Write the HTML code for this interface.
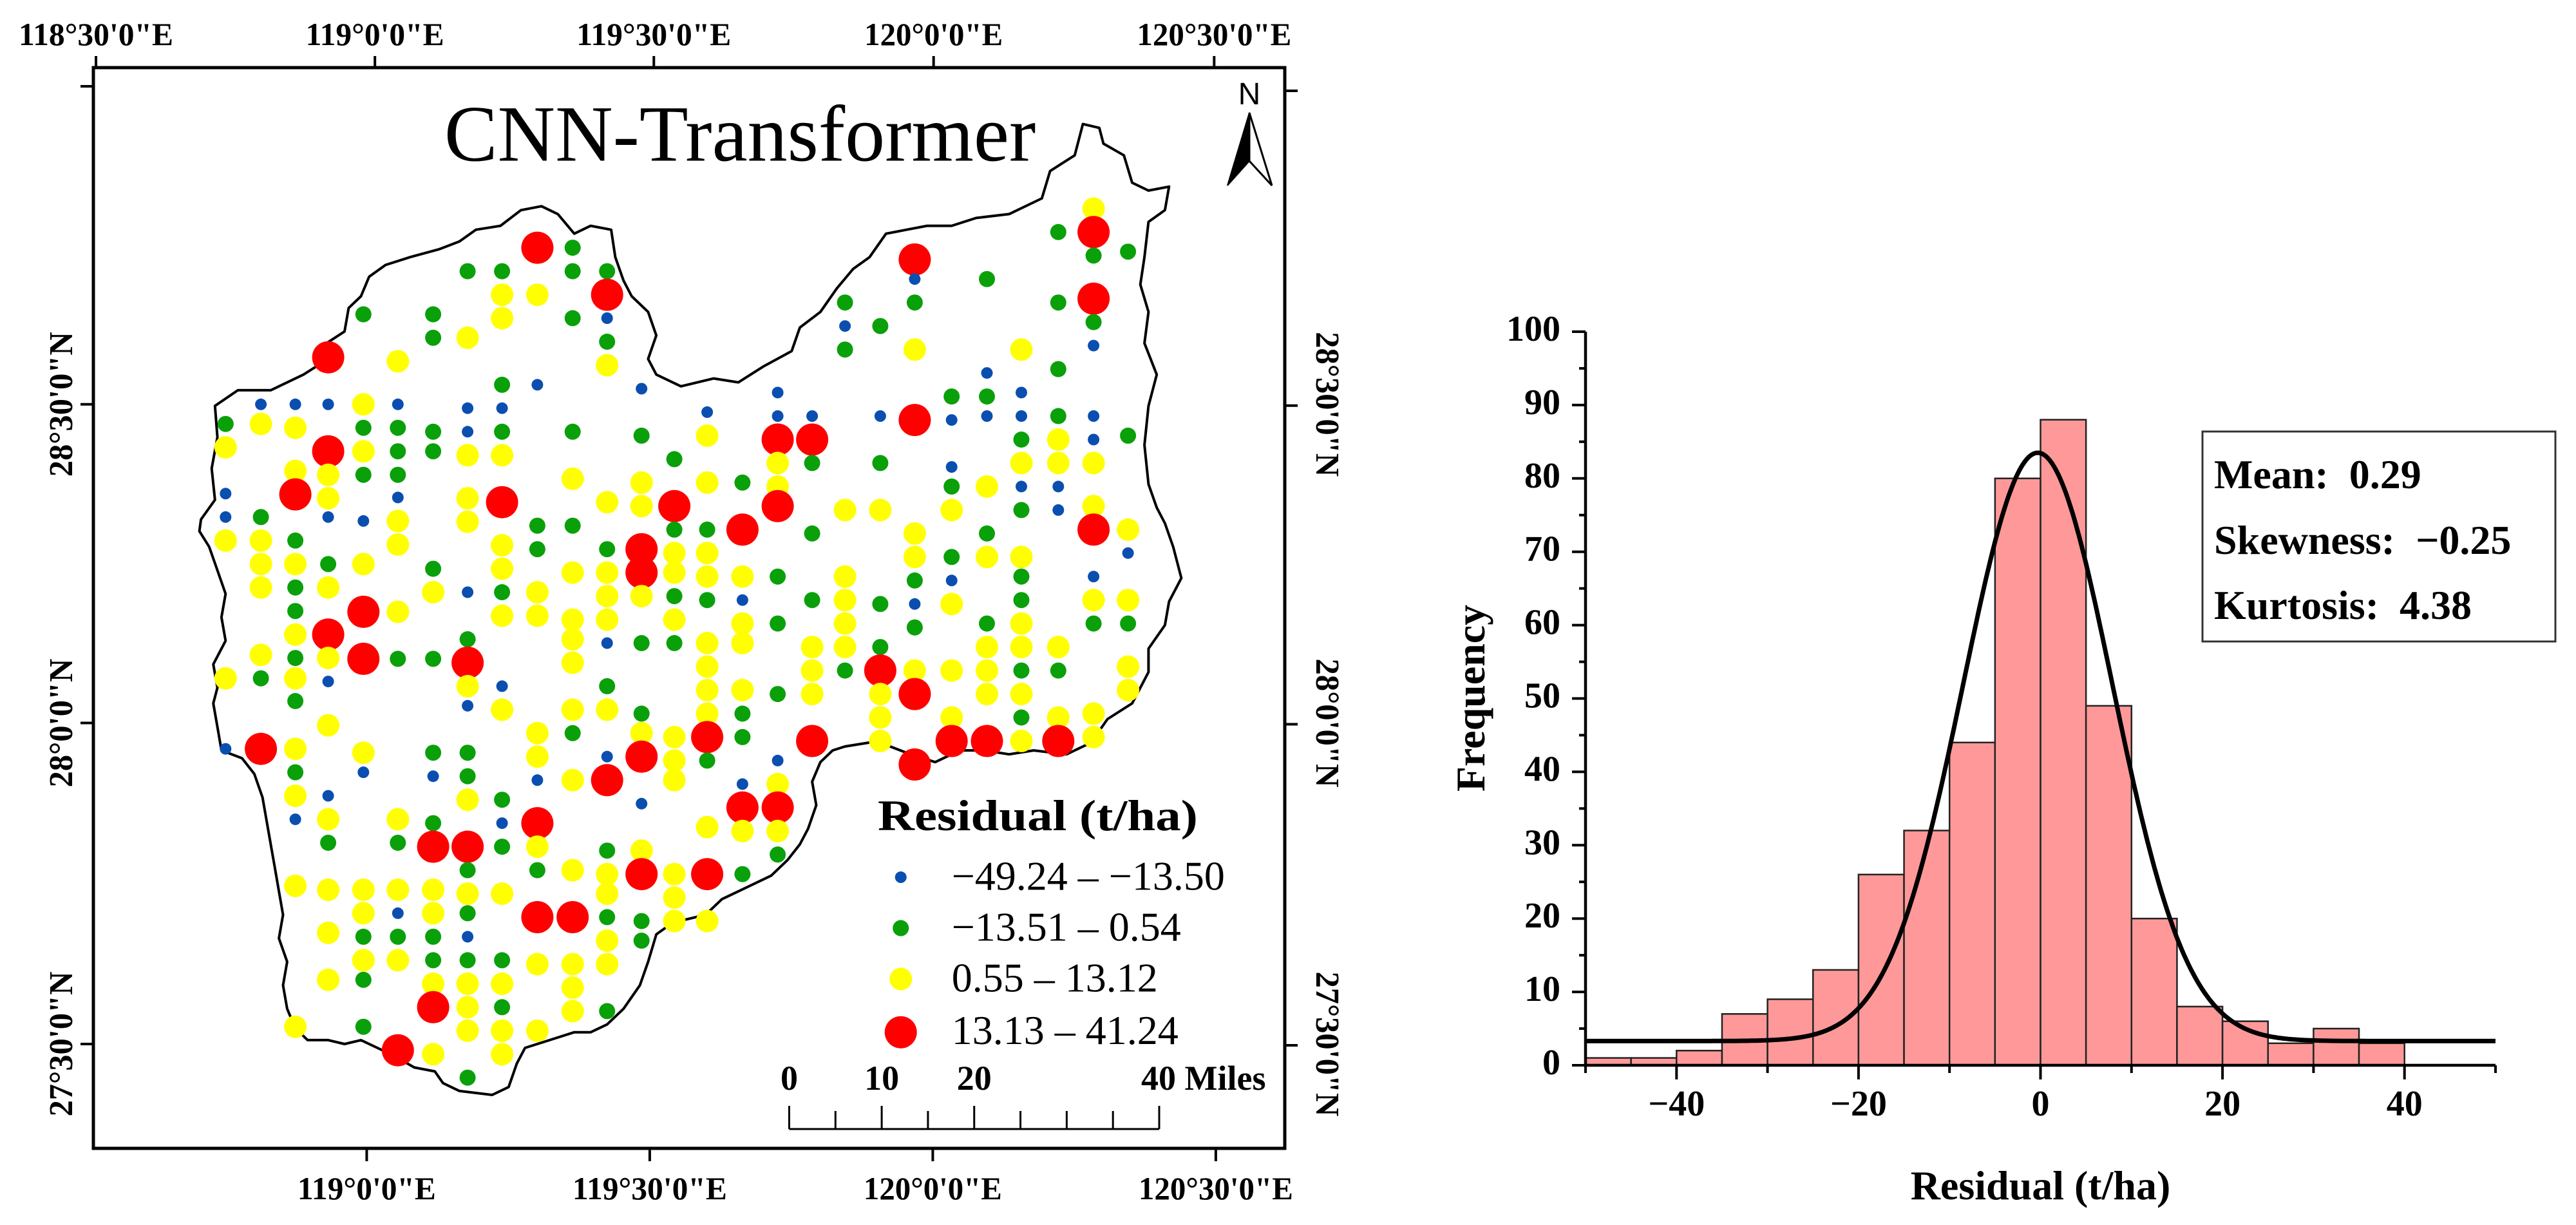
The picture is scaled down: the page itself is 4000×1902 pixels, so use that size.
<!DOCTYPE html>
<html><head><meta charset="utf-8">
<style>
html,body{margin:0;padding:0;background:#fff;}
svg{display:block;}
text{font-family:"Liberation Serif","DejaVu Serif",serif;fill:#000;white-space:pre;}
</style></head>
<body>
<svg id="fig" width="4000" height="1902" viewBox="0 0 4000 1902" xmlns="http://www.w3.org/2000/svg" xml:space="preserve">
  <g id="map"></g>
  <g id="hist"></g>
</svg>
<script>
// ================= MAP DATA =================
const siteColumns = [
"275:g543,y573,b632,b662,y692,y868,b958",
"318:b518,y543,g662,y692,y722,y752,y838,g868,r958",
"360:b518,y548,y603,r633,g692,y722,g752,g782,y812,g842,y868,g897,y958,g988,y1018,b1048,y1133,y1313",
"400:r458,b518,r578,y608,y638,b662,g722,y752,r812,y842,b872,y928,b1018,y1048,g1078,y1138,y1193,y1253",
"443:g403,y518,g548,y578,g608,b667,y722,r783,r843,y963,b988,y1138,y1168,g1198,y1228,g1253,g1313",
"485:y463,b518,g548,g578,g608,b637,y667,y697,y783,g843,y1048,g1078,y1138,b1168,g1198,y1228,r1343",
"528:g403,g433,g553,g578,g728,y758,g843,g963,b993,g1053,r1083,y1138,y1168,g1198,g1228,y1258,r1288,y1348",
"570:g348,y433,b523,b553,y583,y638,y668,b758,g818,r848,y878,b903,g963,g993,y1023,r1083,g1113,y1143,g1168,b1198,g1228,y1258,y1288,y1318,g1378",
"612:g348,y378,y408,g493,b523,g553,y583,r643,y698,y728,g758,y788,b878,y908,g1023,b1053,g1083,y1143,g1228,y1258,g1288,y1318,y1348",
"655:r318,y378,b493,g673,g703,y758,y788,y938,y968,b998,r1053,y1083,g1113,r1173,y1233,y1318",
"698:g318,g348,g408,g553,y613,g673,y733,y793,y818,y848,y908,g938,y998,y1113,r1173,y1233,y1263,y1293",
"740:g348,r378,b408,g438,y468,y643,g703,y733,y763,y793,b823,g878,y908,b968,r998,g1088,y1118,y1143,g1173,y1203,y1233,g1293",
"782:b498,g558,y618,y648,r703,r733,y763,g823,g913,y938,r968,b1028,y1088,r1118,g1178,g1203",
"822:g588,r648,g678,y708,y733,g763,y793,g823,y943,y973,y998,y1118,y1148,y1178",
"862:b528,y558,y618,g678,y708,y738,g768,y823,y853,y883,y913,r943,g973,y1058,r1118,y1178",
"905:g618,r678,y738,b768,y798,y823,y883,g913,g943,b1003,r1033,y1063,g1118",
"948:b503,b533,r563,y593,y623,r648,g738,g798,g888,b973,y1003,r1033,y1063,g1093",
"990:b533,r563,g593,g683,g768,y828,y858,y888,r948",
"1030:g388,b418,g448,y653,y738,y768,y798,y828,g858",
"1073:g418,b533,g593,y653,g773,g828,r858,y888,y918,y948",
"1115:r333,b358,g388,y448,r538,y683,y713,g743,b773,g803,y858,r888,r978",
"1160:g508,b538,b598,g623,y653,g713,b743,y773,y858,y918,r948",
"1203:g358,b478,g508,b533,y623,g683,y713,g798,y828,y858,y888,r948",
"1245:y448,b503,b533,g563,y593,b623,g653,y713,g738,g768,y798,y828,g858,y888,g918,y948",
"1290:g298,g388,g473,g533,y563,y593,b623,b653,y828,g858,y918,r948",
"1333:y268,r298,g328,r383,g413,b443,b533,b563,y593,y648,r678,b738,y768,g798,y913,y943",
"1375:g323,g558,y678,b708,y768,g798,y853,y883"
];
const classLabels = ["\u221249.24 \u2013 \u221213.50","\u221213.51 \u2013 0.54","0.55 \u2013 13.12","13.13 \u2013 41.24"];
const classKeys = ["b","g","y","r"];
const topLonLabels = ["118\u00b030'0\"E","119\u00b00'0\"E","119\u00b030'0\"E","120\u00b00'0\"E","120\u00b030'0\"E"];
const topLonPos = [117,457,797,1138,1480];
const botLonLabels = ["119\u00b00'0\"E","119\u00b030'0\"E","120\u00b00'0\"E","120\u00b030'0\"E"];
const botLonPos = [447,792,1137,1482];
const latLabels = ["28\u00b030'0\"N","28\u00b00'0\"N","27\u00b030'0\"N"];
const latPos = [518,925,1335];
const scaleBarLabels = ["0","10","20","40 Miles"];
const scaleBarMiles = [0,10,20,40];
const boundary = [[245,665],[262,640],[258,600],[265,560],[262,520],[290,500],[330,500],[370,480],[385,470],[398,440],[420,425],[425,395],[440,380],[450,355],[470,340],[500,330],[535,320],[560,310],[580,295],[610,290],[635,270],[660,265],[680,275],[700,300],[720,290],[745,295],[750,330],[760,360],[770,380],[790,400],[800,430],[790,460],[800,480],[830,495],[870,485],[900,490],[930,470],[965,450],[975,420],[1000,400],[1020,370],[1040,345],[1060,330],[1080,300],[1105,295],[1130,290],[1160,290],[1190,280],[1230,275],[1270,255],[1280,220],[1310,200],[1320,160],[1340,165],[1345,185],[1370,200],[1380,235],[1400,245],[1425,240],[1420,270],[1400,285],[1395,330],[1390,365],[1400,400],[1395,440],[1410,480],[1400,520],[1395,570],[1400,620],[1410,650],[1420,670],[1430,700],[1440,740],[1425,770],[1420,800],[1400,830],[1400,860],[1390,880],[1380,900],[1350,920],[1330,950],[1300,965],[1260,960],[1230,965],[1200,960],[1170,960],[1140,975],[1110,965],[1085,955],[1060,950],[1030,955],[1015,960],[1000,975],[990,1000],[995,1030],[985,1060],[975,1080],[960,1100],[940,1120],[900,1140],[880,1150],[860,1170],[820,1180],[800,1195],[790,1230],[780,1260],[760,1290],[740,1310],[720,1320],[700,1320],[670,1330],[640,1340],[630,1360],[620,1390],[600,1400],[560,1395],[540,1385],[530,1370],[505,1365],[480,1350],[460,1340],[440,1330],[420,1335],[400,1330],[375,1330],[360,1315],[350,1290],[345,1260],[350,1230],[340,1200],[345,1170],[340,1140],[335,1110],[330,1080],[325,1050],[320,1020],[310,990],[295,970],[270,960],[265,930],[260,900],[265,880],[260,850],[275,820],[270,790],[275,760],[265,730],[255,700],[243,680]];

// ================= HISTOGRAM DATA =================
const binStarts = [-50,-45,-40,-35,-30,-25,-20,-15,-10,-5,0,5,10,15,20,25,30,35];
const binCounts = [1,1,2,7,9,13,26,32,44,80,88,49,20,8,6,3,5,3];
const binWidth = [5];
const fitCenter = [-0.3];
const fitSigma = [8.2];
const fitPeak = [80.2];
const fitBase = [3.3];
const xTicks = [-40,-20,0,20,40];
const xTickLabels = ["\u221240","\u221220","0","20","40"];
const yTicks = [0,10,20,30,40,50,60,70,80,90,100];
const yTickLabels = ["0","10","20","30","40","50","60","70","80","90","100"];
const statsLines = ["Mean:  0.29","Skewness:  \u22120.25","Kurtosis:  4.38"];

const NS="http://www.w3.org/2000/svg";
function mk(tag, attrs, parent){const e=document.createElementNS(NS,tag);for(const k in attrs)e.setAttribute(k,attrs[k]);parent.appendChild(e);return e;}

// ---------- map ----------
const map=document.getElementById('map');
const mx=v=>v/0.785, my=v=>(v-1.6)/0.8226;
const FL=145,FR=1995,FT=105,FB=1783;

let frame=mk('rect',{x:FL,y:FT,width:FR-FL,height:FB-FT,fill:'none',stroke:'#000','stroke-width':5},map);



let bd=mk('polygon',{points:boundary.map(p=>mx(p[0]).toFixed(1)+','+my(p[1]).toFixed(1)).join(' '),fill:'#fff',stroke:'#000','stroke-width':4,'stroke-linejoin':'round'},map);



const colors={b:'#0a4fb0',g:'#0aa00a',y:'#ffff00',r:'#ff0000'};
const radii={b:9,g:12.5,y:17.5,r:25};
const dotsG=mk('g',{},map);


siteColumns.forEach(col=>{
  const [cx,rest]=col.split(':');
  rest.split(',').forEach(s=>{
    const k=s[0], yv=+s.slice(1);
    const c=mk('circle',{cx:mx(+cx).toFixed(1),cy:my(yv).toFixed(1),r:radii[k],fill:colors[k]},dotsG);
    
    
  });
});

let t=mk('text',{x:mx(902),y:my(207),'text-anchor':'middle','font-size':124},map);t.textContent='CNN-Transformer';



let na=mk('g',{},map);


mk('polygon',{points:'1940,175 1906,288 1940,250',fill:'#000',stroke:'#000','stroke-width':2},na);
mk('polygon',{points:'1940,175 1975,288 1940,250',fill:'#fff',stroke:'#000','stroke-width':3},na);
let nt=mk('text',{x:1940,y:162,'text-anchor':'middle','font-size':48,style:'font-family:"Liberation Sans",sans-serif'},na);nt.textContent='N';

topLonLabels.forEach((lab,i)=>{
  const x=mx(topLonPos[i]);
  mk('line',{x1:x,x2:x,y1:FT,y2:FT-18,stroke:'#000','stroke-width':4},map);
  let tx=mk('text',{x:x,y:70,'text-anchor':'middle','font-size':50,'font-weight':'bold',textLength:lab.length>9?240:215,lengthAdjust:'spacingAndGlyphs'},map);tx.textContent=lab;
  
  
});
botLonLabels.forEach((lab,i)=>{
  const x=mx(botLonPos[i]);
  mk('line',{x1:x,x2:x,y1:FB,y2:FB+20,stroke:'#000','stroke-width':4},map);
  let tx=mk('text',{x:x,y:1862,'text-anchor':'middle','font-size':50,'font-weight':'bold',textLength:lab.length>9?240:215,lengthAdjust:'spacingAndGlyphs'},map);tx.textContent=lab;
  
  
});
[134].concat(latPos.map(my)).forEach(y=>{
  mk('line',{x1:FL,x2:FL-20,y1:y,y2:y,stroke:'#000','stroke-width':4},map);
});
[141].concat(latPos.map(v=>my(v)+2)).forEach(y=>{
  mk('line',{x1:FR,x2:FR+20,y1:y,y2:y,stroke:'#000','stroke-width':4},map);
});
latLabels.forEach((lab,i)=>{
  const y=my(latPos[i]);
  const tl=lab.length>8?225:200;
  let l=mk('text',{x:0,y:0,'text-anchor':'middle','font-size':52,'font-weight':'bold',textLength:tl,lengthAdjust:'spacingAndGlyphs',transform:`translate(112,${y}) rotate(-90)`},map);l.textContent=lab;
  
  
  let r=mk('text',{x:0,y:0,'text-anchor':'middle','font-size':52,'font-weight':'bold',textLength:tl,lengthAdjust:'spacingAndGlyphs',transform:`translate(2044,${y}) rotate(90)`},map);r.textContent=lab;
  
  
});

let lg=mk('g',{},map);


let lt=mk('text',{x:mx(1070),y:my(1062),'font-size':68,'font-weight':'bold',textLength:mx(1460)-mx(1070),lengthAdjust:'spacingAndGlyphs'},lg);lt.textContent='Residual (t/ha)';
const legY=[1122,1187,1252,1320], legTY=[1138,1203,1268,1335];
classKeys.forEach((k,i)=>{
  mk('circle',{cx:mx(1098),cy:my(legY[i]),r:radii[k],fill:colors[k]},lg);
  let tx=mk('text',{x:mx(1160),y:my(legTY[i]),'font-size':64},lg);tx.textContent=classLabels[i];
  
  
});

let sb=mk('g',{},map);


const sb0=mx(962), sbPerMile=(mx(1413)-mx(962))/40, sbY=1753;
mk('line',{x1:sb0,x2:sb0+40*sbPerMile,y1:sbY,y2:sbY,stroke:'#000','stroke-width':3},sb);
for(let m=0;m<=40;m+=5){
  const major=scaleBarMiles.includes(m);
  mk('line',{x1:sb0+m*sbPerMile,x2:sb0+m*sbPerMile,y1:sbY,y2:sbY-(major?36:28),stroke:'#000','stroke-width':3},sb);
}
scaleBarMiles.forEach((m,i)=>{
  const x=sb0+m*sbPerMile;
  let tx=mk('text',{x:i===3?x-28:x,y:1692,'text-anchor':i===3?'start':'middle','font-size':54,'font-weight':'bold'},sb);tx.textContent=scaleBarLabels[i];
});

// ---------- histogram ----------
const hist=document.getElementById('hist');
const X0=2462,X1=3875,Y0=1654,Y1=515;
const hx=v=>X0+(v+50)/100*(X1-X0);
const hy=v=>Y0-v/100*(Y0-Y1);

binStarts.forEach((s,i)=>{
  const r=mk('rect',{x:hx(s),y:hy(binCounts[i]),width:hx(s+binWidth[0])-hx(s),height:Y0-hy(binCounts[i]),fill:'#ff9999',stroke:'#222','stroke-width':2.5},hist);
  
  
});

let pts=[];
for(let v=-50;v<=50;v+=0.25){
  const f=fitBase[0]+fitPeak[0]*Math.exp(-Math.pow(v-fitCenter[0],2)/(2*fitSigma[0]*fitSigma[0]));
  pts.push(hx(v).toFixed(1)+','+hy(f).toFixed(1));
}
let cv=mk('polyline',{points:pts.join(' '),fill:'none',stroke:'#000','stroke-width':7,'stroke-linejoin':'round'},hist);



let ax=mk('path',{d:`M${X0},${Y1} L${X0},${Y0} L${X1},${Y0}`,fill:'none',stroke:'#000','stroke-width':4.5},hist);


for(let v=0;v<=100;v+=5){
  const maj=v%10===0;
  mk('line',{x1:X0,x2:X0-(maj?21:10),y1:hy(v),y2:hy(v),stroke:'#000','stroke-width':4},hist);
}
yTicks.forEach((v,i)=>{
  let tx=mk('text',{x:2423,y:hy(v)+14,'text-anchor':'end','font-size':56,'font-weight':'bold'},hist);tx.textContent=yTickLabels[i];
  
  
});
for(let v=-50;v<=50;v+=10){
  const maj=v%20===0;
  mk('line',{x1:hx(v),x2:hx(v),y1:Y0,y2:Y0+(maj?22:12),stroke:'#000','stroke-width':4},hist);
}
mk('line',{x1:X1,x2:X1,y1:Y0,y2:Y0+12,stroke:'#000','stroke-width':4},hist);
xTicks.forEach((v,i)=>{
  let tx=mk('text',{x:hx(v),y:1732,'text-anchor':'middle','font-size':56,'font-weight':'bold'},hist);tx.textContent=xTickLabels[i];
  
  
});
let yt=mk('text',{x:0,y:0,'text-anchor':'middle','font-size':64,'font-weight':'bold',transform:'translate(2305,1084) rotate(-90)'},hist);yt.textContent='Frequency';


let xt=mk('text',{x:hx(0),y:1862,'text-anchor':'middle','font-size':64,'font-weight':'bold'},hist);xt.textContent='Residual (t/ha)';



let sbx=mk('g',{},hist);


mk('rect',{x:3420,y:670,width:548,height:326,fill:'#fff',stroke:'#333','stroke-width':3},sbx);
const sY=[758,860,961];
statsLines.forEach((s,i)=>{
  let tx=mk('text',{x:3438,y:sY[i],'font-size':64,'font-weight':'bold'},sbx);tx.textContent=s;
  
  
});
</script>
</body></html>
